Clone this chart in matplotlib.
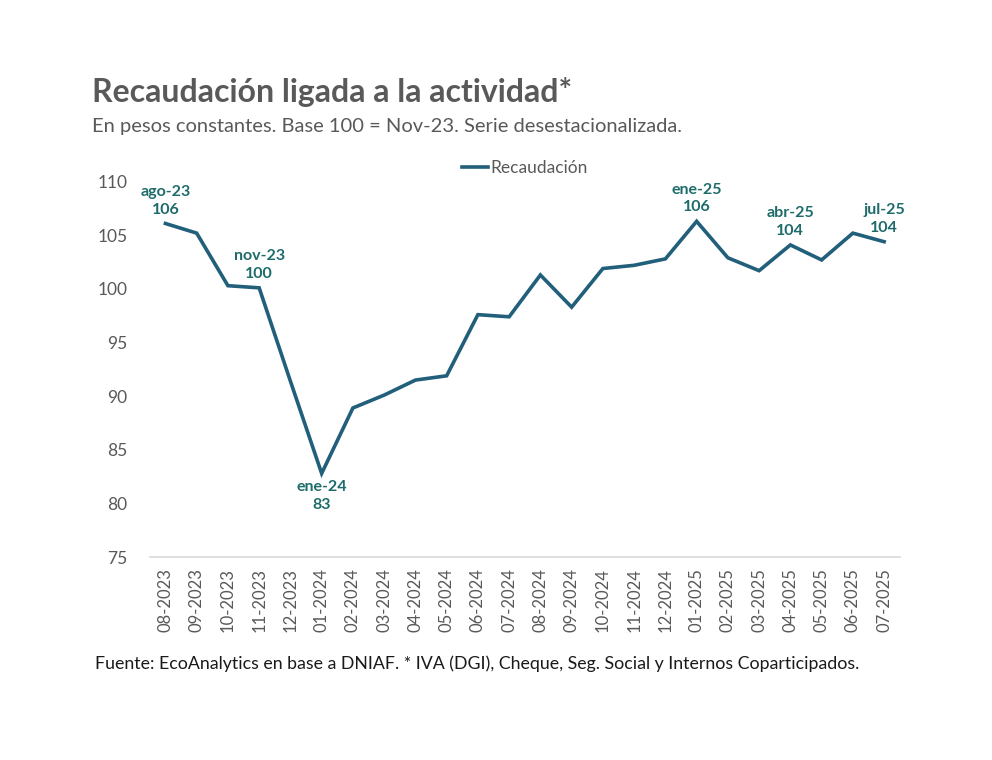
import matplotlib.pyplot as plt

plt.rcParams['font.family'] = ['Lato', 'DejaVu Sans']

months = ["08-2023", "09-2023", "10-2023", "11-2023", "12-2023",
          "01-2024", "02-2024", "03-2024", "04-2024", "05-2024",
          "06-2024", "07-2024", "08-2024", "09-2024", "10-2024",
          "11-2024", "12-2024", "01-2025", "02-2025", "03-2025",
          "04-2025", "05-2025", "06-2025", "07-2025"]
recaudacion = [106.1, 105.2, 100.3, 100.1, 91.4,
               82.8, 88.9, 90.1, 91.5, 91.9,
               97.6, 97.4, 101.3, 98.3, 101.9,
               102.2, 102.8, 106.3, 102.9, 101.7,
               104.1, 102.7, 105.2, 104.4]

# highlighted points: (index, label, above?)
highlights = [(0, "ago-23", True), (3, "nov-23", True), (5, "ene-24", False),
              (17, "ene-25", True), (20, "abr-25", True), (23, "jul-25", True)]

line_color = "#215F7A"
label_color = "#1E6B6B"
gray = "#595959"

fig = plt.figure(figsize=(9.92, 7.6), dpi=100)
ax = fig.add_axes([0.151, 0.267, 0.756, 0.494])

x = list(range(len(months)))
ax.plot(x, recaudacion, color=line_color, lw=2.6, label="Recaudación",
        solid_joinstyle='miter')

for i, name, above in highlights:
    v = recaudacion[i]
    txt = f"{name}\n{round(v)}"
    if above:
        ax.annotate(txt, (i, v), xytext=(0, 5), textcoords='offset points',
                    ha='center', va='bottom', fontsize=11.5, fontweight='bold',
                    color=label_color, linespacing=1.35)
    else:
        ax.annotate(txt, (i, v), xytext=(0, -5), textcoords='offset points',
                    ha='center', va='top', fontsize=11.5, fontweight='bold',
                    color=label_color, linespacing=1.35)

ax.set_xlim(-0.5, len(months) - 0.5)
ax.set_ylim(75, 110)
ax.set_yticks(range(75, 111, 5))
ax.set_xticks(x)
ax.set_xticklabels(months, rotation=90, fontsize=12, color=gray)
ax.tick_params(axis='y', length=0, labelsize=12.5, labelcolor=gray, pad=16)
ax.tick_params(axis='x', length=0, pad=8)
for s in ['top', 'right', 'left']:
    ax.spines[s].set_visible(False)
ax.spines['bottom'].set_color("#D9D9D9")
ax.spines['bottom'].set_linewidth(1.2)

leg = ax.legend(loc='upper center', bbox_to_anchor=(0.5, 1.1), frameon=False,
                fontsize=12.5, handlelength=1.5, handletextpad=0.15)
for t in leg.get_texts():
    t.set_color(gray)

fig.text(0.093, 0.879, "Recaudación ligada a la actividad*", fontsize=23,
         fontweight='bold', color=gray, va='center')
fig.text(0.093, 0.833, "En pesos constantes. Base 100 = Nov-23. Serie desestacionalizada.",
         fontsize=14.5, color=gray, va='center')
fig.text(0.096, 0.127, "Fuente: EcoAnalytics en base a DNIAF. * IVA (DGI), Cheque, Seg. Social y Internos Coparticipados.",
         fontsize=12.8, color="#1A1A1A", va='center')

fig.savefig("out.png", dpi=100)
